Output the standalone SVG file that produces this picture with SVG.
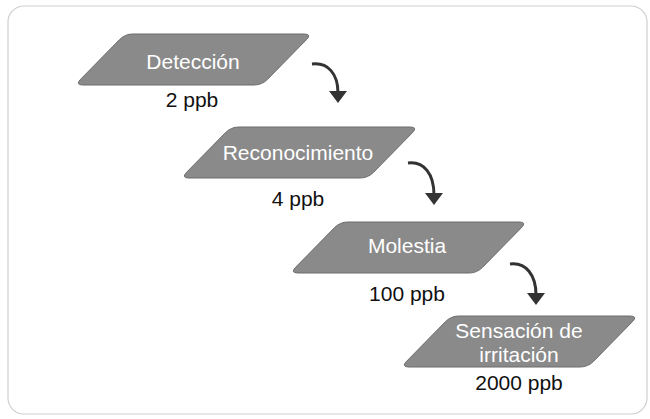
<svg xmlns="http://www.w3.org/2000/svg" width="650" height="419" viewBox="0 0 650 419">
<style>
.frame{fill:#ffffff;stroke:#cfcfcf;stroke-width:1.2}
.para{fill:#8a8a8a;stroke:#6c6c6c;stroke-width:1}
.nt{font-family:"Liberation Sans",Arial,sans-serif;font-size:21px;fill:#ffffff;text-anchor:middle}
.pt{font-family:"Liberation Sans",Arial,sans-serif;font-size:21px;fill:#111111;text-anchor:middle}
.arr{fill:none;stroke:#333333;stroke-width:3;marker-end:url(#ah)}
</style>
<defs>
<path id="para" d="M8,0 H179 Q187,0 181.4,5.7 L142.6,45.3 Q137,51 129,51 H-42 Q-50,51 -44.4,45.3 L-5.6,5.7 Q0,0 8,0 Z"/>
<marker id="ah" markerUnits="userSpaceOnUse" markerWidth="20" markerHeight="20" viewBox="0 0 20 20" refX="2" refY="10" orient="auto">
<path d="M0,1 L12,10 L0,19 Z" fill="#333333"/>
</marker>
</defs>
<rect class="frame" x="8" y="6" width="639" height="408" rx="16"/>
<g id="node-deteccion">
<use href="#para" class="para" transform="translate(125,34)"/>
<text class="nt" x="193" y="69">Detección</text>
<text class="pt" x="192" y="107">2 ppb</text>
</g>
<g id="node-reconocimiento">
<use href="#para" class="para" transform="translate(231,127)"/>
<text class="nt" x="298" y="160">Reconocimiento</text>
<text class="pt" x="298" y="206">4 ppb</text>
</g>
<g id="node-molestia">
<use href="#para" class="para" transform="translate(340,222)"/>
<text class="nt" x="407" y="253">Molestia</text>
<text class="pt" x="407" y="301">100 ppb</text>
</g>
<g id="node-irritacion">
<use href="#para" class="para" transform="translate(451,316)"/>
<text class="nt" x="519" y="338">Sensación de</text>
<text class="nt" x="519" y="362">irritación</text>
<text class="pt" x="519" y="390">2000 ppb</text>
</g>
<g id="connectors">
<path class="arr" d="M312,64 C328,62 338,74 338,93"/>
<path class="arr" d="M408,163 C424,161 434,174 434,195"/>
<path class="arr" d="M510,264 C526,262 536,275 536,295"/>
</g>
</svg>
